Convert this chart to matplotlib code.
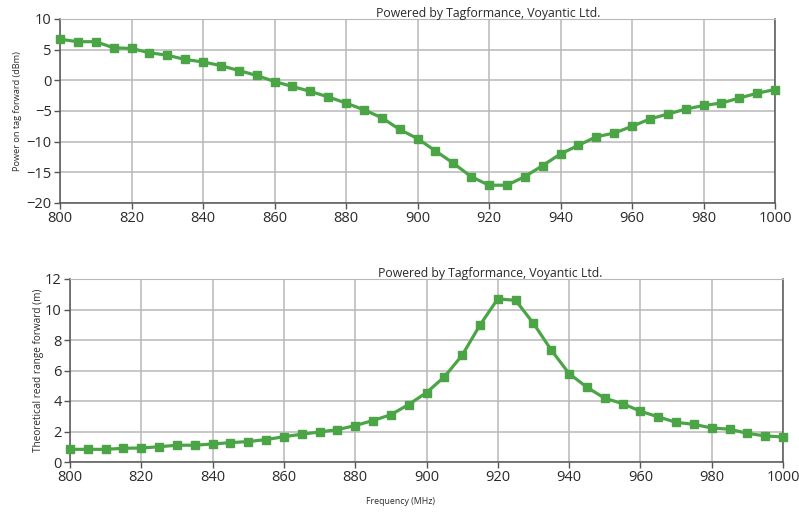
import matplotlib
matplotlib.use("Agg")
import matplotlib.pyplot as plt
import numpy as np

freq = list(range(800, 1001, 5))
power_dbm = [6.7, 6.3, 6.3, 5.3, 5.2, 4.5, 4.1, 3.4, 3.0, 2.4,
             1.6, 0.8, -0.2, -1.0, -1.8, -2.7, -3.7, -4.8, -6.1, -8.0,
             -9.5, -11.5, -13.5, -15.7, -17.1, -17.1, -15.7, -13.9, -12.0, -10.6,
             -9.2, -8.6, -7.5, -6.3, -5.5, -4.7, -4.1, -3.7, -2.9, -2.1,
             -1.5]
read_range_m = [0.83, 0.83, 0.83, 0.9, 0.92, 1.0, 1.1, 1.1, 1.18, 1.27,
                1.34, 1.47, 1.66, 1.82, 1.97, 2.12, 2.39, 2.72, 3.1, 3.77,
                4.55, 5.58, 7.0, 8.98, 10.7, 10.6, 9.09, 7.34, 5.8, 4.9,
                4.18, 3.83, 3.33, 2.96, 2.6, 2.47, 2.23, 2.15, 1.88, 1.71,
                1.64]
x_ticks = list(range(800, 1001, 20))
top_yticks = [10, 5, 0, -5, -10, -15, -20]
bot_yticks = [0, 2, 4, 6, 8, 10, 12]

plt.rcParams['font.family'] = ['Open Sans', 'DejaVu Sans']

green = '#4ba547'
gridc = '#b8b8b8'
textc = '#2a2a2a'
W, H = 799, 513
fig = plt.figure(figsize=(W/100, H/100), dpi=100)

def style(ax):
    ax.grid(True, color=gridc, linewidth=1.1)
    ax.set_axisbelow(True)
    ax.spines['top'].set_color(gridc)
    for s in ['left', 'bottom', 'right']:
        ax.spines[s].set_color('#555555')
        ax.spines[s].set_linewidth(1.1)
    ax.tick_params(axis='both', direction='out', length=4, width=1,
                   colors='#555555', labelcolor=textc, labelsize=10.5, pad=2)
    ax.set_xlim(800, 1000)
    ax.set_xticks(x_ticks)

ax1 = fig.add_axes([60/W, 1-203/H, (775-60)/W, (203-19)/H])
ax1.plot(freq, power_dbm, color=green, linewidth=2.3, marker='s', markersize=5.5,
         markeredgecolor=green, clip_on=False, zorder=3)
ax1.set_ylim(-20, 10)
ax1.set_yticks(top_yticks)
style(ax1)
ax1.set_ylabel('Power on tag forward (dBm)', fontsize=6.6, color=textc, labelpad=3)
fig.text(488/W, 1-14/H, 'Powered by Tagformance, Voyantic Ltd.', fontsize=8.8,
         color=textc, ha='center', va='center')

ax2 = fig.add_axes([70/W, 1-462/H, (783-70)/W, (462-279)/H])
ax2.plot(freq, read_range_m, color=green, linewidth=2.3, marker='s', markersize=5.5,
         markeredgecolor=green, clip_on=False, zorder=3)
ax2.set_ylim(0, 12)
ax2.set_yticks(bot_yticks)
style(ax2)
ax2.set_ylabel('Theoretical read range forward (m)', fontsize=7.2, color=textc, labelpad=1)
fig.text(490/W, 1-273/H, 'Powered by Tagformance, Voyantic Ltd.', fontsize=8.8,
         color=textc, ha='center', va='center')
fig.text(400/W, 1-501/H, 'Frequency (MHz)', fontsize=6.3, color=textc,
         ha='center', va='center')

fig.savefig('out.png', dpi=100)
